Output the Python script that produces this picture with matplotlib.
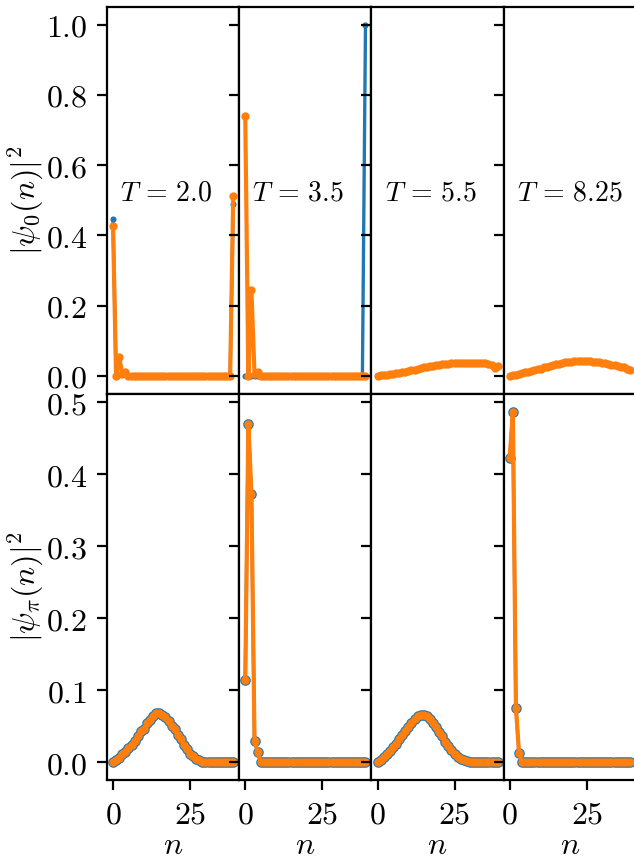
import numpy as np
import matplotlib
matplotlib.use("Agg")
import matplotlib.pyplot as plt
from matplotlib.ticker import FormatStrFormatter

plt.rcParams['mathtext.fontset'] = 'cm'
plt.rcParams['font.family'] = 'serif'
plt.rcParams['font.size'] = 11.5

# site index
n = np.arange(40)
T_values = ["2.0", "3.5", "5.5", "8.25"]

# |psi_0(n)|^2, top row (blue / orange)
psi0_a_T20 = [0.446, 0.0, 0.054, 0.005, 0.010] + [0.0] * 34 + [0.490]
psi0_b_T20 = [0.427, 0.0, 0.054, 0.005, 0.010] + [0.0] * 34 + [0.511]
psi0_a_T35 = [0.0] * 39 + [1.0]
psi0_b_T35 = [0.739, 0.0, 0.245, 0.005, 0.012] + [0.0] * 35
psi0_T55 = [0.001, 0.002, 0.003, 0.004, 0.005, 0.006, 0.007, 0.008, 0.010, 0.012,
            0.014, 0.016, 0.018, 0.020, 0.022, 0.024, 0.026, 0.028, 0.029, 0.031,
            0.032, 0.033, 0.034, 0.035, 0.036, 0.036, 0.037, 0.037, 0.038, 0.038,
            0.038, 0.038, 0.038, 0.038, 0.037, 0.036, 0.035, 0.032, 0.022, 0.027]
psi0_T825 = [0.001, 0.002, 0.004, 0.006, 0.008, 0.010, 0.012, 0.014, 0.016, 0.019,
             0.021, 0.024, 0.026, 0.029, 0.031, 0.033, 0.035, 0.037, 0.039, 0.040,
             0.041, 0.042, 0.043, 0.043, 0.043, 0.043, 0.042, 0.041, 0.040, 0.039,
             0.038, 0.036, 0.034, 0.032, 0.030, 0.028, 0.026, 0.024, 0.019, 0.016]

# |psi_pi(n)|^2, bottom row
psipi_T20 = [0.000, 0.003, 0.006, 0.012, 0.014, 0.020, 0.024, 0.030, 0.036, 0.043,
             0.046, 0.055, 0.059, 0.065, 0.068, 0.068, 0.066, 0.063, 0.058, 0.051,
             0.046, 0.038, 0.033, 0.024, 0.019, 0.012, 0.009, 0.005, 0.003, 0.001,
             0.001] + [0.0] * 9
psipi_T35 = [0.114, 0.470, 0.372, 0.030, 0.015] + [0.0] * 35
psipi_T55 = [0.001, 0.004, 0.007, 0.012, 0.016, 0.021, 0.026, 0.032, 0.038, 0.043,
             0.049, 0.055, 0.060, 0.064, 0.066, 0.066, 0.064, 0.060, 0.055, 0.049,
             0.042, 0.036, 0.029, 0.023, 0.017, 0.012, 0.008, 0.005, 0.003, 0.002,
             0.001] + [0.0] * 9
psipi_T825 = [0.423, 0.487, 0.076, 0.013] + [0.0] * 36

top_blue = [psi0_a_T20, psi0_a_T35, psi0_T55, psi0_T825]
top_orange = [psi0_b_T20, psi0_b_T35, psi0_T55, psi0_T825]
bottom_vals = [psipi_T20, psipi_T35, psipi_T55, psipi_T825]

fig, axes = plt.subplots(2, 4, figsize=(3.17, 4.28), dpi=200, sharey='row')
plt.subplots_adjust(left=107/634, right=636/634, bottom=1-780/856, top=1-7/856,
                    wspace=0, hspace=0)

for j in range(4):
    ax = axes[0, j]
    ax.plot(n, top_blue[j], 'o-', color='C0', lw=1.2, ms=1.2)
    ax.plot(n, top_orange[j], 'o-', color='C1', lw=1.5, ms=2)
    ax.text(0.1, 0.5, r'$T\,=\,%s$' % T_values[j], transform=ax.transAxes,
            fontsize=10)
    ax.tick_params(axis='x', bottom=False, labelbottom=False)

    ax = axes[1, j]
    ax.plot(n, bottom_vals[j], 'o-', color='C0', lw=1.2, ms=2.8)
    ax.plot(n, bottom_vals[j], 'o-', color='C1', lw=1.5, ms=2)
    ax.set_xticks([0, 25])
    ax.xaxis.set_major_formatter(FormatStrFormatter(r'$%d$'))
    ax.set_xlabel(r'$n$', labelpad=0)

for ax in axes.flat:
    ax.set_xlim(-1.95, 40.95)

axes[0, 0].set_ylim(-0.05, 1.05)
axes[0, 0].set_yticks([0.0, 0.2, 0.4, 0.6, 0.8, 1.0])
axes[1, 0].set_ylim(-0.0244, 0.512)
axes[1, 0].set_yticks([0.0, 0.1, 0.2, 0.3, 0.4, 0.5])
for i in range(2):
    axes[i, 0].yaxis.set_major_formatter(FormatStrFormatter(r'$%.1f$'))

axes[0, 0].set_ylabel(r'$|\psi_0(n)|^2$', labelpad=0)
axes[1, 0].set_ylabel(r'$|\psi_\pi(n)|^2$', labelpad=0)

fig.savefig('out.png', dpi=200)
